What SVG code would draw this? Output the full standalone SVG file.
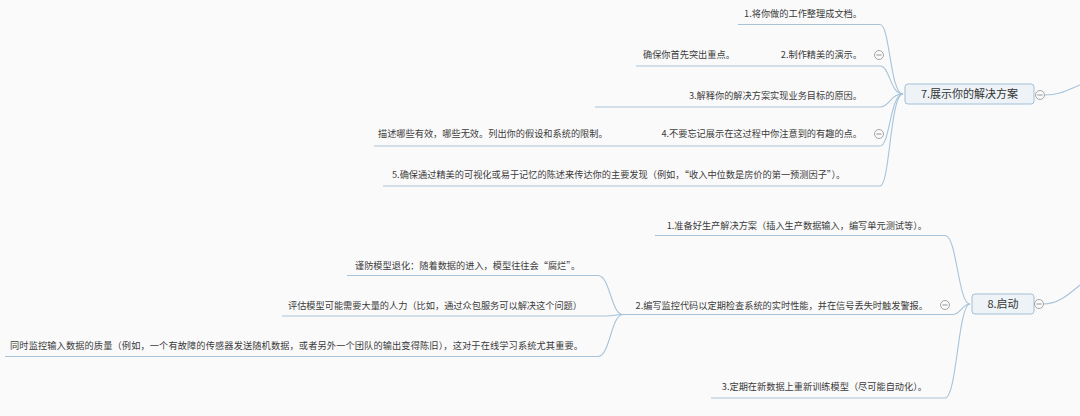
<svg xmlns="http://www.w3.org/2000/svg" width="1080" height="416" viewBox="0 0 1080 416">
<style>
.bg{fill:#fafafa}
.ln{fill:none;stroke:#a7c3da;stroke-width:1.1}
.t{font-family:"Noto Sans CJK SC","Liberation Sans",sans-serif;font-size:9.2px;fill:#3a3a3a}
.nt{font-family:"Noto Sans CJK SC","Liberation Sans",sans-serif;font-size:11px;fill:#333;text-anchor:middle}
.box{fill:#eef3f8;stroke:#a3bfd7;stroke-width:1}
.cc{fill:#fafafa;stroke:#9c9c9c;stroke-width:0.9}
.cm{stroke:#8a8a8a;stroke-width:0.9}
.e{text-anchor:end}
</style>
<defs>
<g id="col"><circle class="cc" cx="0" cy="0" r="4.5"/><line class="cm" x1="-2.6" y1="0" x2="2.6" y2="0"/></g>
</defs>
<rect class="bg" x="0" y="0" width="1080" height="416"/>
<g id="connectors">
<path class="ln" d="M1044.5 95 C1060 95 1068 90 1080 85"/>
<path class="ln" d="M1043.5 304 C1058 304 1068 295 1080 285"/>
<path class="ln" d="M738 24.5 H880 C890 24.5 890 94 903 94"/>
<path class="ln" d="M636 66 H880 C890 66 890 94 903 94"/>
<path class="ln" d="M595 107 H880 C890 107 890 94 903 94"/>
<path class="ln" d="M374 146 H880 C890 146 890 94 903 94"/>
<path class="ln" d="M383 186 H880 C890 186 890 94 903 94"/>
<path class="ln" d="M655 235.5 H945 C957 235.5 958 304 970 304"/>
<path class="ln" d="M623 314.5 H952 C961 314.5 962 304 970 304"/>
<path class="ln" d="M711 398 H945 C957 398 958 304 970 304"/>
<path class="ln" d="M347 275.5 H598 C610 275.5 611 314.5 623 314.5"/>
<path class="ln" d="M282 316 H606 C614 316 615 314.5 623 314.5"/>
<path class="ln" d="M5 356.5 H598 C610 356.5 611 314.5 623 314.5"/>
</g>
<g id="n7">
<rect class="box" x="905" y="84" width="129" height="20" rx="3"/>
<text class="nt" x="969.5" y="98.2">7.展示你的解决方案</text>
<use href="#col" x="1040" y="95"/>
</g>
<g id="n7-1"><text class="t e" x="862" y="17">1.将你做的工作整理成文档。</text></g>
<g id="n7-2"><text class="t e" x="862" y="57.5">2.制作精美的演示。</text><use href="#col" x="879" y="55"/></g>
<g id="n7-2-1"><text class="t" x="643" y="57.5">确保你首先突出重点。</text></g>
<g id="n7-3"><text class="t e" x="862" y="98.5">3.解释你的解决方案实现业务目标的原因。</text></g>
<g id="n7-4"><text class="t e" x="862" y="137">4.不要忘记展示在这过程中你注意到的有趣的点。</text><use href="#col" x="879" y="134"/></g>
<g id="n7-4-1"><text class="t" x="378" y="137">描述哪些有效，哪些无效。列出你的假设和系统的限制。</text></g>
<g id="n7-5"><text class="t" x="392" y="177.5">5.确保通过精美的可视化或易于记忆的陈述来传达你的主要发现（例如，“收入中位数是房价的第一预测因子”）。</text></g>
<g id="n8">
<rect class="box" x="972" y="294" width="62" height="20" rx="3"/>
<text class="nt" x="1003" y="308.2">8.启动</text>
<use href="#col" x="1039" y="304"/>
</g>
<g id="n8-1"><text class="t e" x="927" y="228.5">1.准备好生产解决方案（插入生产数据输入，编写单元测试等）。</text></g>
<g id="n8-2"><text class="t e" x="928" y="308.5">2.编写监控代码以定期检查系统的实时性能，并在信号丢失时触发警报。</text><use href="#col" x="945" y="305"/></g>
<g id="n8-2-1"><text class="t" x="355" y="268.5">谨防模型退化：随着数据的进入，模型往往会“腐烂”。</text></g>
<g id="n8-2-2"><text class="t e" x="582" y="308.5">评估模型可能需要大量的人力（比如，通过众包服务可以解决这个问题）</text></g>
<g id="n8-2-3"><text class="t" x="10" y="348.5" textLength="573" lengthAdjust="spacing">同时监控输入数据的质量（例如，一个有故障的传感器发送随机数据，或者另外一个团队的输出变得陈旧），这对于在线学习系统尤其重要。</text></g>
<g id="n8-3"><text class="t e" x="927" y="389.5">3.定期在新数据上重新训练模型（尽可能自动化）。</text></g>
</svg>
